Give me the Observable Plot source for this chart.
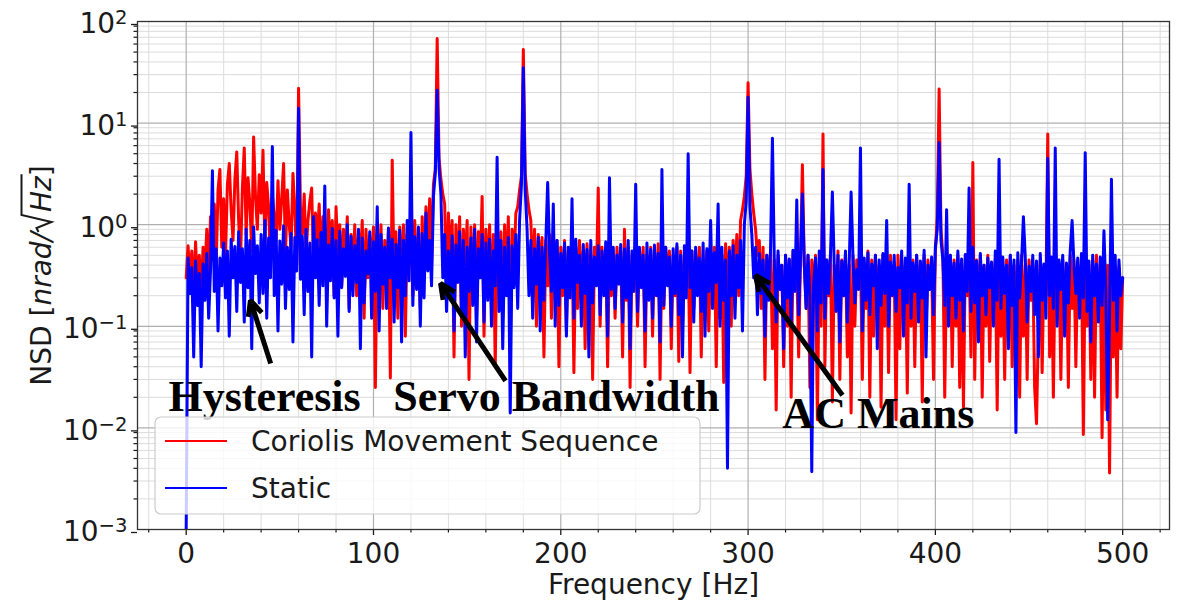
<!DOCTYPE html>
<html><head><meta charset="utf-8">
<script src="https://cdn.jsdelivr.net/npm/d3@7"></script>
<script src="https://cdn.jsdelivr.net/npm/@observablehq/plot@0.6"></script>
<style>
html,body{margin:0;padding:0;background:#fff;}
#chart{width:1180px;height:604px;}
</style></head><body><div id="chart"></div>
<script>
// 1 Hz frequency bins, 0..500 Hz
const frequency = d3.range(0, 501);

// Coriolis Movement Sequence NSD [nrad/sqrt(Hz)], one value per bin
const coriolis = [
.3,.62,.28,.55,.18,.68,.25,.5,.2,.6,
.35,.9,.3,1.2,.45,1.6,.4,2.2,3.5,.6,
1.8,.5,2.5,4.0,1.4,.7,2.8,5.2,1.1,.45,
2.3,5.7,.8,2.9,1.6,.55,7.3,1.9,.9,3.1,
1.3,5.4,.6,2.6,1.5,.4,2.0,1.2,.7,2.7,
.9,1.8,4.0,.5,2.2,1.0,.6,3.2,1.4,.4,
22,1.5,.8,2.0,.5,1.1,1.7,2.3,.35,1.3,
.7,1.6,.4,1.2,.9,.3,1.4,.6,1.1,.2,
1.5,.5,1.0,.25,.9,.4,1.2,.15,.8,.35,
1.0,.2,.85,.45,1.1,.12,.9,.3,.75,.5,
.95,.025,.8,.4,1.0,.15,.7,.35,.9,.031,
4.3,.3,.85,.12,.95,.25,1.0,.08,.8,.4,
.9,.2,1.1,.35,.75,.15,1.2,.3,1.5,.5,
1.8,.4,2.5,3.5,68,4.5,2.8,2.0,1.6,.2,
1.3,.45,1.1,.05,1.0,.3,1.2,.1,.9,.4,
1.1,.03,.95,.25,1.0,.12,.85,.35,1.9,.08,
.9,.3,1.0,.15,.8,.04,.95,.25,.85,.12,
1.0,.3,1.2,.06,.9,.4,1.3,1.5,2.2,3.0,
53,3.2,2.0,1.4,1.1,.3,.9,.1,.8,.35,
.75,.05,.7,.25,.8,.12,.65,.3,.7,.04,
.6,.2,.7,.09,.55,.3,.65,.035,.6,.15,
.7,.25,.55,.06,.65,.2,.5,.03,.6,.3,
2.3,.1,.6,.25,.55,.04,.65,.2,.5,.12,
.6,.3,.55,.05,.9,.18,.6,.025,.5,.25,
.65,.1,.55,.3,.6,.04,.5,.2,.6,.08,
.55,.22,.65,.03,.5,.15,.6,.3,.55,.06,
.5,.2,.6,.045,.55,.1,.5,.25,.6,.035,
.55,.15,.5,.3,.6,.05,.45,.2,.55,.09,
.5,.25,.6,.04,.55,.12,.5,.028,.65,.2,
.6,.1,.7,.3,.8,.2,1.1,1.4,1.9,3.0,
25,3.5,2.0,1.3,.9,.5,.7,.15,.6,.03,
.5,.2,.55,.06,.45,.015,.5,.25,.4,.04,
.5,.1,.45,.02,.55,.3,.4,.05,.5,3.9,
.4,.15,.5,.025,.45,.2,.5,.012,.4,.1,
7.8,.04,.45,.2,.5,.018,.4,.15,.55,.03,
.45,.2,.5,.05,.4,.014,.5,.1,.45,.25,
.5,.03,.4,.15,.55,.02,.45,.08,.5,.2,
.4,.016,.5,.1,.45,.035,.5,.2,.4,.012,
.5,.06,.45,.2,.4,.022,.55,.1,.45,.04,
.5,.15,.4,.018,.5,.09,.45,.25,.4,.03,
.55,1.2,21.6,.9,.5,.02,.45,.15,.5,.04,
.45,.1,.5,.025,.4,.016,.5,.2,.45,.05,
4.1,.03,.45,.15,.5,.02,.4,.1,.5,.045,
.4,.2,.45,.015,.5,.08,.4,.03,.45,.2,
.5,.04,.4,.12,.45,.02,.5,.08,.4,.03,
.45,.18,.4,.025,.011,.1,.45,.035,.4,.2,
7.8,.05,.45,.02,.5,.15,.4,.03,.45,.1,
.4,.025,.5,.15,.45,.04,.4,.2,.45,.0086,
.5,.1,.4,.03,.45,.02,.5,.12,.4,.008,
.45,.015,.4,.0036,.5,.05,.35,.02,.38,.06,
.3
];

// Static NSD [nrad/sqrt(Hz)], one value per bin
const staticNSD = [
.001,.47,.21,.38,.05,.44,.16,.33,.04,.41,
.18,.52,.12,.36,3.4,.22,.58,.09,.47,.25,
.66,.19,.55,.08,.72,.3,.61,.14,.85,.27,
.58,.11,.9,.24,.7,.06,.95,.33,.62,.17,
.8,.21,1.1,.12,.74,.3,5.9,.2,.88,.09,
.69,.26,.97,.15,.6,.23,.82,.07,.75,.35,
14,.29,.77,.13,.9,.22,.66,.05,1.2,.3,
.71,.16,.84,.25,2.4,.1,.63,.28,.92,.19,
.7,.08,.86,.24,.58,.31,1.0,.14,.77,.2,
.62,.27,.9,.06,.74,.17,.55,.33,.85,.12,
.68,.22,1.5,.09,.8,.26,.6,.15,.93,.3,
.72,.11,.64,.24,.88,.07,.7,.2,1.1,.28,
8.1,.16,.76,.23,.95,.1,.82,.19,1.3,.35,
.7,.25,1.9,3.2,21,3.6,2.0,.3,.8,.14,
.55,.2,.78,.09,.63,.27,.85,.13,.7,.05,
.6,.22,.74,.16,.9,.07,.58,.3,.8,.11,
.66,.18,.72,.1,.55,.25,4.6,.14,.7,.06,
.6,.2,.75,.014,.62,.24,.8,.15,1.1,2.5,
35,2.2,.9,.2,.7,.12,.58,.26,.75,.09,
.6,.18,.68,2.6,.55,.22,1.6,.1,.7,.16,
.52,.24,.66,.08,.6,.19,1.8,.12,.72,.27,
.5,.1,.64,.21,.57,.05,.7,.17,.48,.25,
.62,.13,.55,.2,.68,.08,2.9,.23,.6,.15,
.5,.26,.64,.11,.58,.19,.7,.06,.55,.22,
2.5,.14,.6,.24,.5,.09,.66,.18,.57,.12,
.63,.2,.52,.07,3.5,.16,.6,.25,.48,.1,
.58,.21,.65,.13,.5,.05,.62,.19,5.0,.24,
.55,.11,.6,.2,.47,.14,.66,.08,.58,.22,
1.1,.15,.53,.27,1.6,.1,.6,.18,.45,.004,
.55,.2,.62,.12,.5,.24,.7,.09,1.0,1.7,
18,1.5,.8,.3,.6,.13,.52,.21,.45,.08,
.5,.18,.58,7.1,.44,.11,.55,.23,.4,.06,
.5,.19,.46,.1,.56,.22,1.75,.13,.48,2.0,
.42,.15,.5,.2,.0037,.26,.47,.09,.55,.17,
3.5,.12,.45,.21,.52,2.1,.4,.14,.5,.07,
.44,.2,.55,.11,.42,2.1,.48,.17,.36,.23,
5.7,.09,.47,.18,.53,.13,.41,.25,.5,.06,
.45,.16,.52,.21,1.1,.1,.43,.2,.5,.14,
.38,.24,.55,.08,.47,.17,2.5,.12,.42,.22,
.5,.11,.44,.19,.56,.05,.4,.23,.48,.13,
.6,.9,6.4,.7,.45,.16,1.4,.1,.5,.2,
.42,.12,.55,.18,.46,.09,.51,.22,2.3,.14,
.6,.17,.44,.07,.52,.2,.4,.13,.47,.24,
.43,.1,.55,.18,4.4,.15,.48,.21,.4,.06,
.5,.16,.45,.009,.53,.19,.42,1.2,.47,.11,
.39,.22,.5,.13,.44,.05,.52,.18,.41,.12,
4.5,.2,.48,.15,5.7,.1,.45,.23,.5,.08,
.42,.17,.55,1.1,.4,.21,.47,.12,.52,.19,
5.1,.14,.44,.07,.5,.2,.41,.11,.48,.16,
.87,.22,.012,.13,2.8,.18,.5,.09,.45,.2,
.3
];

const seriesNames = ["Coriolis Movement Sequence", "Static"];
const seriesColors = ["#ff0000", "#0000ff"];

const xMajorTicks = [0, 100, 200, 300, 400, 500];
const xMinorTicks = d3.range(-20, 521, 20).filter(d => d % 100 !== 0);
const yMajorTicks = [1e-3, 1e-2, 1e-1, 1, 10, 100];
const yMinorMultipliers = [2, 3, 4, 5, 6, 7, 8, 9];
const yMinorTicks = yMajorTicks.slice(0, -1).flatMap(d => yMinorMultipliers.map(m => m * d));

const yLabelText = "NSD [nrad/Hz]";
const annotationLabels = ["Hysteresis", "Servo Bandwidth", "AC Mains"];
const annotationFreq = [-9.5, 110.5, 318.3];
const annotationNSD = [0.0148, 0.0148, 0.0099];
const annotations = annotationLabels.map((label, i) => ({label, f: annotationFreq[i], v: annotationNSD[i]}));

// arrows: tail (f1,v1) -> head (f2,v2)
const arrows = [
  {f1: 45.1, v1: 0.043, f2: 34.3, v2: 0.18},
  {f1: 170.5, v1: 0.029, f2: 135.8, v2: 0.264},
  {f1: 350.4, v1: 0.021, f2: 304, v2: 0.316}
];

const plot = Plot.plot({
  width: 1180,
  height: 604,
  marginLeft: 137,
  marginRight: 11,
  marginTop: 21,
  marginBottom: 75,
  style: {fontFamily: "DejaVu Sans", fontSize: "28px", color: "#1a1a1a", background: "white", overflow: "visible"},
  x: {domain: [-26, 525]},
  y: {type: "log", domain: [1e-3, 1e2]},
  marks: [
    Plot.gridX({ticks: xMinorTicks, stroke: "#dcdcdc", strokeOpacity: 1, strokeWidth: 1}),
    Plot.gridY({ticks: yMinorTicks, stroke: "#dcdcdc", strokeOpacity: 1, strokeWidth: 1}),
    Plot.gridX({ticks: xMajorTicks, stroke: "#b0b0b0", strokeOpacity: 1, strokeWidth: 1.2}),
    Plot.gridY({ticks: yMajorTicks, stroke: "#b0b0b0", strokeOpacity: 1, strokeWidth: 1.2}),
    Plot.line(coriolis, {x: (d, i) => frequency[i], y: d => d, stroke: seriesColors[0], strokeWidth: 3, clip: true}),
    Plot.line(staticNSD, {x: (d, i) => frequency[i], y: d => d, stroke: seriesColors[1], strokeWidth: 3, clip: true}),
    Plot.axisX({ticks: xMinorTicks, tickSize: 3.5, tickFormat: () => "", label: null, strokeWidth: 1.2}),
    Plot.axisX({ticks: xMajorTicks, tickSize: 6, tickPadding: 8, tickFormat: d => String(d), label: null, fontSize: 28, strokeWidth: 1.3}),
    Plot.axisY({ticks: yMinorTicks, tickSize: 3.5, tickFormat: () => "", label: null, strokeWidth: 1.2}),
    Plot.axisY({ticks: yMajorTicks, tickSize: 6, tickPadding: 4, dy: 3, fontSize: 28, strokeWidth: 1.3,
      tickFormat: d => "10^" + Math.round(Math.log10(d)), label: null}),
    Plot.frame({stroke: "#333", strokeWidth: 1.3}),
    Plot.text(["Frequency [Hz]"], {frameAnchor: "bottom", dy: 64, lineAnchor: "bottom", fontSize: 28, fill: "#1a1a1a"}),
    Plot.text([yLabelText], {frameAnchor: "left", dx: -87, rotate: -90, lineAnchor: "bottom", textAnchor: "middle", fontSize: 28, fill: "#1a1a1a"}),
    Plot.text(annotations, {x: "f", y: "v", text: "label", textAnchor: "start", lineAnchor: "bottom",
      fontFamily: "Liberation Serif", fontWeight: "bold", fontSize: 44, fill: "black"}),
    Plot.arrow(arrows, {x1: "f1", y1: "v1", x2: "f2", y2: "v2", stroke: "black", strokeWidth: 5,
      headLength: 5, headAngle: 50, bend: 0, strokeLinejoin: "miter", strokeLinecap: "butt"})
  ]
});

document.getElementById("chart").appendChild(plot);
const svg = d3.select(plot);

// superscript exponents on y tick labels
svg.selectAll('g[aria-label="y-axis tick label"] text').each(function () {
  const t = this.textContent;
  if (!t || t.indexOf("^") < 0) return;
  const [base, exp] = t.split("^");
  const el = d3.select(this);
  el.text(null);
  el.append("tspan").text(base);
  el.append("tspan").attr("dy", "-9").attr("font-size", "19.6px").text(exp.replace("-", "\u2212"));
});

// y axis label with italic math parts and a drawn radical over Hz
svg.selectAll("text").filter(function () { return this.textContent === yLabelText; }).each(function () {
  const el = d3.select(this);
  el.text(null);
  el.append("tspan").text("NSD [");
  el.append("tspan").attr("font-style", "italic").text("nrad/");
  el.append("tspan").attr("font-style", "italic").attr("dx", 20).text("Hz");
  el.append("tspan").text("]");
  try {
    const h = this.getStartPositionOfChar(10);
    const z = this.getEndPositionOfChar(11);
    const xr = h.x - 20, y0 = h.y;
    const tr = this.getAttribute("transform");
    const p = d3.select(this.parentNode).append("path")
      .attr("d", `M${xr},${y0 - 12}L${xr + 4},${y0 - 14}L${xr + 10},${y0 + 1}L${xr + 17},${y0 - 29}L${z.x + 2},${y0 - 29}`)
      .attr("fill", "none").attr("stroke", "#1a1a1a").attr("stroke-width", 2);
    if (tr) p.attr("transform", tr);
  } catch (e) {}
});

// legend
const lg = svg.append("g").attr("aria-label", "legend");
lg.append("rect").attr("x", 155).attr("y", 417).attr("width", 545).attr("height", 97).attr("rx", 6)
  .attr("fill", "white").attr("fill-opacity", 0.8).attr("stroke", "#cccccc").attr("stroke-width", 1.2);
seriesNames.forEach((name, i) => {
  const y = 441 + i * 47;
  lg.append("line").attr("x1", 165).attr("x2", 227).attr("y1", y).attr("y2", y)
    .attr("stroke", seriesColors[i]).attr("stroke-width", 2.2);
  lg.append("text").attr("x", 251).attr("y", y + 10).attr("text-anchor", "start")
    .attr("font-size", 28).attr("fill", "#1a1a1a").text(name);
});
</script>
</body></html>
